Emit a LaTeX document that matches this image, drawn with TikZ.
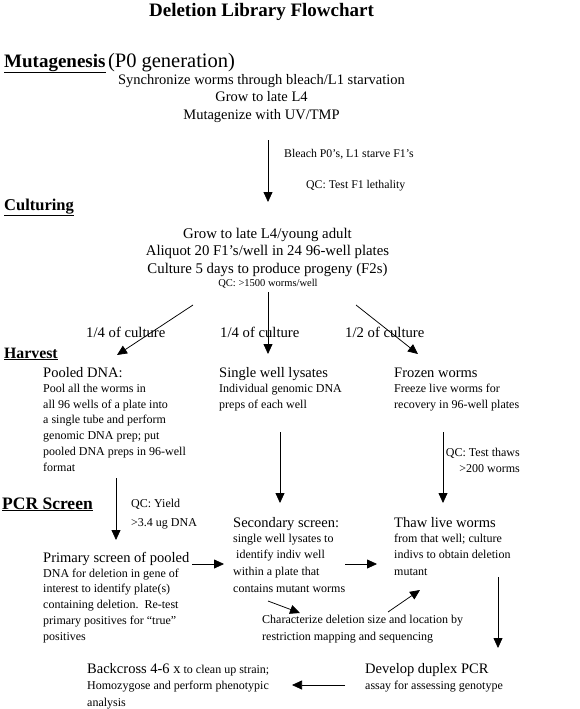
\documentclass[tikz,border=0pt]{standalone}
\usepackage{fontspec}
\setmainfont{Liberation Serif}
\usetikzlibrary{arrows.meta}
\tikzset{
  txt/.style={inner sep=0pt, anchor=base west, font=\fontsize{12}{15}\selectfont},
  head/.style={inner sep=0pt, anchor=base west, font=\fontsize{14.5}{17}\selectfont},
  body/.style={inner sep=0pt, anchor=north west, align=left, font=\fontsize{12}{15.8}\selectfont},
  section/.style={inner sep=0pt, anchor=base west},
  flow/.style={-{Triangle[length=10pt,width=9pt]}, line width=0.75pt},
}
\begin{document}
\begin{tikzpicture}[x=1pt,y=-1pt]
\useasboundingbox (0,0) rectangle (580,709);
% title
\node[section, anchor=base, font=\bfseries\fontsize{19}{22}\selectfont] (title) at (261.5,17) {Deletion Library Flowchart};
% Mutagenesis
\node[section] (mut) at (4,67) {{\fontsize{19}{22}\selectfont\bfseries\underline{Mutagenesis}} {\fontsize{20.5}{24}\selectfont (P0 generation)}};
\node[body, anchor=north, align=center, font=\fontsize{14.5}{17.5}\selectfont] (mutsteps) at (261.5,72)
  {\rule{0pt}{12pt}Synchronize worms through bleach/L1 starvation\\Grow to late L4\\Mutagenize with UV/TMP};
\node[txt, font=\fontsize{11.8}{14}\selectfont] (bleach) at (284,157) {Bleach P0’s, L1 starve F1’s};
\node[txt, font=\fontsize{11.8}{14}\selectfont] (qcf1) at (306,188) {QC: Test F1 lethality};
% Culturing
\node[section, font=\bfseries\fontsize{16.5}{20}\selectfont] (cult) at (4,210) {\underline{Culturing}};
\node[body, anchor=north, align=center, font=\fontsize{14.8}{17.6}\selectfont] (cultsteps) at (267.5,226)
  {\rule{0pt}{12pt}Grow to late L4/young adult\\Aliquot 20 F1’s/well in 24 96-well plates\\Culture 5 days to produce progeny (F2s)};
\node[txt, anchor=base, font=\fontsize{10.5}{13}\selectfont] (qc1500) at (268,286) {QC: >1500 worms/well};
\node[head, font=\fontsize{14.7}{17}\selectfont] (fracA) at (86,337) {1/4 of culture};
\node[head, font=\fontsize{14.7}{17}\selectfont] (fracB) at (220,337) {1/4 of culture};
\node[head, font=\fontsize{14.7}{17}\selectfont] (fracC) at (345,337) {1/2 of culture};
% Harvest
\node[section, font=\bfseries\fontsize{15.8}{19}\selectfont] (harv) at (4,358) {\underline{Harvest}};
\node[head] (pooledH) at (43,377) {Pooled DNA:};
\node[head] (singleH) at (219,377) {Single well lysates};
\node[head] (frozenH) at (394,377) {Frozen worms};
\node[body] (pooledB) at (43,382) {\rule{0pt}{10pt}Pool all the worms in\\all 96 wells of a plate into\\a single tube and perform\\genomic DNA prep; put\\pooled DNA preps in 96-well\\format};
\node[body] (singleB) at (219,382) {\rule{0pt}{10pt}Individual genomic DNA\\preps of each well};
\node[body] (frozenB) at (394,382) {\rule{0pt}{10pt}Freeze live worms for\\recovery in 96-well plates};
\node[body, anchor=north east, align=right] (qcthaw) at (520,446) {\rule{0pt}{10pt}QC: Test thaws\\>200 worms};
% PCR screen
\node[section, font=\bfseries\fontsize{17.5}{21}\selectfont] (pcr) at (2,509) {\underline{PCR Screen}};
\node[body, font=\fontsize{12}{19}\selectfont] (qcyield) at (131,497) {\rule{0pt}{10pt}QC: Yield\\>3.4 ug DNA};
\node[head] (secH) at (233,527) {Secondary screen:};
\node[head] (thawH) at (394,527) {Thaw live worms};
\node[body, font=\fontsize{12}{16.7}\selectfont] (secB) at (233,532) {\rule{0pt}{10pt}single well lysates to\\\hspace{3pt}identify indiv well\\within a plate that\\contains mutant worms};
\node[body, font=\fontsize{12}{16.7}\selectfont] (thawB) at (394,532) {\rule{0pt}{10pt}from that well; culture\\indivs to obtain deletion\\mutant};
\node[head] (primH) at (43,562) {Primary screen of pooled};
\node[body, font=\fontsize{12}{15.75}\selectfont] (primB) at (43,567) {\rule{0pt}{10pt}DNA for deletion in gene of\\interest to identify plate(s)\\containing deletion.\ \ Re-test\\primary positives for “true”\\positives};
\node[body, font=\fontsize{12}{17}\selectfont] (charB) at (262,613) {\rule{0pt}{10pt}Characterize deletion size and location by\\restriction mapping and sequencing};
\node[head] (devH) at (365,673) {Develop duplex PCR};
\node[txt] (devB) at (365,689) {assay for assessing genotype};
\node[txt] (backH) at (87,673) {{\fontsize{14.5}{17}\selectfont Backcross 4-6 x} to clean up strain;};
\node[body, font=\fontsize{12}{17}\selectfont] (backB) at (87,679) {\rule{0pt}{10pt}Homozygose and perform phenotypic\\analysis};
% arrow end points
\coordinate (a1s) at (268,140); \coordinate (a1e) at (268,202);
\coordinate (a2s) at (193,305); \coordinate (a2e) at (117,355);
\coordinate (a3s) at (268,292); \coordinate (a3e) at (268,354);
\coordinate (a4s) at (356,305); \coordinate (a4e) at (418,354);
\coordinate (a5s) at (280,432); \coordinate (a5e) at (280,503);
\coordinate (a6s) at (443,432); \coordinate (a6e) at (443,503);
\coordinate (a7s) at (116,478); \coordinate (a7e) at (116,540);
\coordinate (a8s) at (192,564); \coordinate (a8e) at (224,564);
\coordinate (a9s) at (345,564); \coordinate (a9e) at (377,564);
\coordinate (a10s) at (268,601); \coordinate (a10e) at (300,613);
\coordinate (a11s) at (388,612); \coordinate (a11e) at (420,590);
\coordinate (a12s) at (498,577); \coordinate (a12e) at (498,648);
\coordinate (a13s) at (345,685); \coordinate (a13e) at (292,685);
\foreach \i in {1,...,13} {\draw[flow] (a\i s) -- (a\i e);}
\end{tikzpicture}
\end{document}
